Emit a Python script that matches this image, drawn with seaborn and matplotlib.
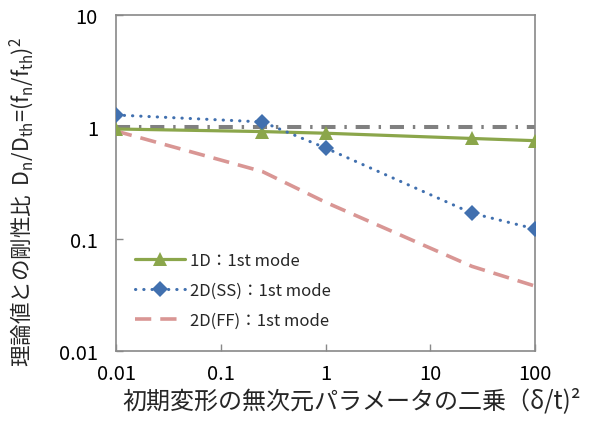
import matplotlib
matplotlib.use("Agg")
import matplotlib.pyplot as plt
import seaborn as sns
import pandas as pd

sns.set_theme(style="white")
plt.rcParams['font.family'] = ['Noto Sans CJK JP', 'DejaVu Sans']
plt.rcParams['mathtext.fontset'] = 'custom'
plt.rcParams['mathtext.rm'] = 'Noto Sans CJK JP'
plt.rcParams['mathtext.it'] = 'Noto Sans CJK JP'

x_vals = [0.01, 0.25, 1, 25, 100]
y_1d = [0.96, 0.91, 0.88, 0.79, 0.755]
y_ss = [1.28, 1.11, 0.65, 0.17, 0.123]
y_ff = [0.92, 0.40, 0.213, 0.057, 0.038]
ref_x = [0.01, 100]
ref_y = [1.0, 1.0]
labels = ["1D：1st mode", "2D(SS)：1st mode", "2D(FF)：1st mode"]

fig = plt.figure(figsize=(5.94, 4.27), dpi=100)
ax = fig.add_axes([116/594, 1-352/427, (535-116)/594, (352-16)/427])

sns.lineplot(x=ref_x, y=ref_y, ax=ax, color="#808080", lw=2.9,
             dashes=False, zorder=2).lines[-1].set_dashes([3.5, 2.2, 0.6, 2.2])
sns.lineplot(x=x_vals, y=y_1d, ax=ax, color="#8BA64B", lw=2.3, marker="^",
             markersize=10, markeredgewidth=0, label=labels[0], zorder=3)
l2 = sns.lineplot(x=x_vals, y=y_ss, ax=ax, color="#4170AF", lw=2.2, marker="D",
             markersize=8, markeredgewidth=0, label=labels[1], zorder=4).lines[-1]
l2.set_dashes([0.1, 2.6]); l2.set_dash_capstyle('round')
l3 = sns.lineplot(x=x_vals, y=y_ff, ax=ax, color="#D99694", lw=2.6,
             label=labels[2], zorder=2).lines[-1]
l3.set_dashes([4.5, 2.5])

ax.set_xscale("log")
ax.set_yscale("log")
ax.set_xlim(0.01, 100)
ax.set_ylim(0.01, 10)
ax.set_xticks([0.01, 0.1, 1, 10, 100])
ax.set_xticklabels(["0.01", "0.1", "1", "10", "100"])
ax.set_yticks([0.01, 0.1, 1, 10])
ax.set_yticklabels(["0.01", "0.1", "1", "10"])
ax.minorticks_off()
ax.tick_params(axis='both', direction='in', length=5, width=1, color="#898989",
               labelsize=14.5, labelcolor="black", bottom=True, left=True)
ax.tick_params(axis='x', pad=9)
ax.tick_params(axis='y', pad=13)
for s in ax.spines.values():
    s.set_color("#898989")
    s.set_linewidth(1.2)
ax.grid(False)

ax.set_xlabel("初期変形の無次元パラメータの二乗（δ/t)²", fontsize=17.3)
ax.set_ylabel(r"理論値との剛性比  D$_\mathregular{n}$/D$_\mathregular{th}$=(f$_\mathregular{n}$/f$_\mathregular{th}$)$^\mathregular{2}$",
              fontsize=15.5)
ax.xaxis.set_label_coords(0.563, -0.108)
ax.yaxis.set_label_coords(-0.19, 0.445)

leg = ax.legend(loc="lower left", bbox_to_anchor=(0.03, 0.045), frameon=False,
                fontsize=12, handlelength=3.0, labelspacing=0.8, handletextpad=0.3,
                borderaxespad=0)

fig.savefig("out.png", dpi=100)
